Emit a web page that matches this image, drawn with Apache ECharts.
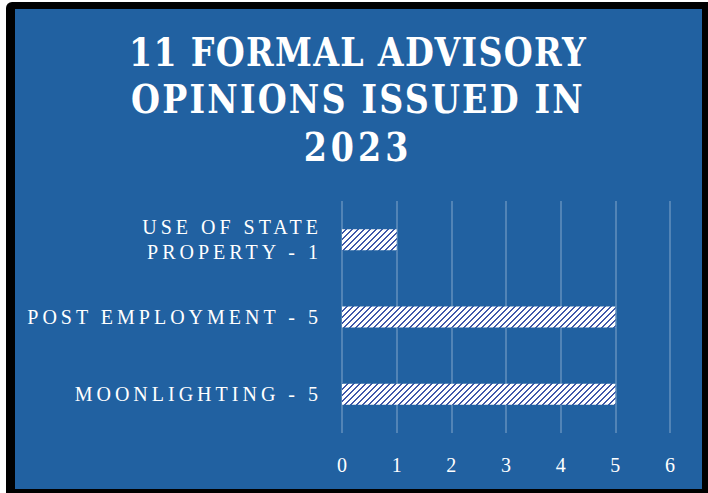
<!DOCTYPE html>
<html><head><meta charset="utf-8">
<script src="https://cdn.jsdelivr.net/npm/echarts@6/dist/echarts.min.js"></script>
<style>
html,body{margin:0;padding:0;background:#fff;width:708px;height:493px;overflow:hidden}
#frame{position:absolute;left:6px;top:2px;width:702px;height:491px;background:#000;border-top-left-radius:6px}
#panel{position:absolute;left:15px;top:9px;width:687px;height:480px;background:#2161A1}
#chart{position:absolute;left:0;top:0;width:708px;height:493px}
</style></head><body>
<div id="frame"></div><div id="panel"></div><div id="chart"></div>
<script>
// ---- data ----
const titleLines = ['11 FORMAL ADVISORY', 'OPINIONS ISSUED IN', '2023'];
const categories = ['MOONLIGHTING - 5', 'POST EMPLOYMENT - 5', 'USE OF STATE\nPROPERTY - 1'];
const values = [5, 5, 1];
const xTicks = [0, 1, 2, 3, 4, 5, 6];

// ---- hatch pattern ----
const pc = document.createElement('canvas');
pc.width = 6; pc.height = 6;
const px = pc.getContext('2d');
px.fillStyle = '#ffffff'; px.fillRect(0, 0, 6, 6);
px.fillStyle = '#4058AA';
for (let y = 0; y < 6; y++) {
  for (let x = 0; x < 6; x++) {
    const m = (x + y) % 6;
    if (m === 5 || m === 4) px.fillRect(x, y, 1, 1);
  }
}
const hatch = { image: pc.toDataURL(), repeat: 'repeat' };

const chart = echarts.init(document.getElementById('chart'), null, { renderer: 'svg' });
const serif = "'Liberation Serif', 'DejaVu Serif', serif";
chart.setOption({
  animation: false,
  backgroundColor: 'transparent',
  graphic: [{
    type: 'text', x: 358, y: 28, scaleY: 1.06,
    style: {
      text: titleLines.join('\n'), fill: '#ffffff', font: "bold 37px 'DejaVu Serif Condensed', 'Liberation Serif', serif",
      lineHeight: 44.8, align: 'center', verticalAlign: 'top'
    }
  }],
  grid: { left: 342, right: 38, top: 201, bottom: 60 },
  xAxis: {
    type: 'value', min: xTicks[0], max: xTicks[xTicks.length - 1], interval: 1,
    axisLine: { show: false }, axisTick: { show: false },
    splitLine: { show: true, lineStyle: { color: 'rgba(255,255,255,0.3)', width: 1.5 } },
    axisLabel: { color: '#ffffff', fontSize: 20, fontFamily: serif, margin: 22 }
  },
  yAxis: {
    type: 'category', data: categories,
    axisLine: { show: false }, axisTick: { show: false },
    axisLabel: { color: '#ffffff', fontSize: 20, lineHeight: 25, fontFamily: serif, margin: 20, align: 'right' }
  },
  series: [{
    type: 'bar', data: values, barWidth: 21,
    itemStyle: { color: hatch }
  }]
});

const titleSpacing = [1.3, 2.2, 4];
function applySpacing() {
  document.querySelectorAll('#chart svg text').forEach(t => {
    const s = t.textContent.trim();
    const ti = titleLines.indexOf(s);
    if (ti >= 0) t.style.letterSpacing = titleSpacing[ti] + 'px';
    else if (/^\d$/.test(s)) t.style.letterSpacing = '0px';
    else t.style.letterSpacing = '4px';
  });
}
applySpacing();
chart.on('finished', applySpacing);
setTimeout(applySpacing, 50);
</script>
</body></html>
